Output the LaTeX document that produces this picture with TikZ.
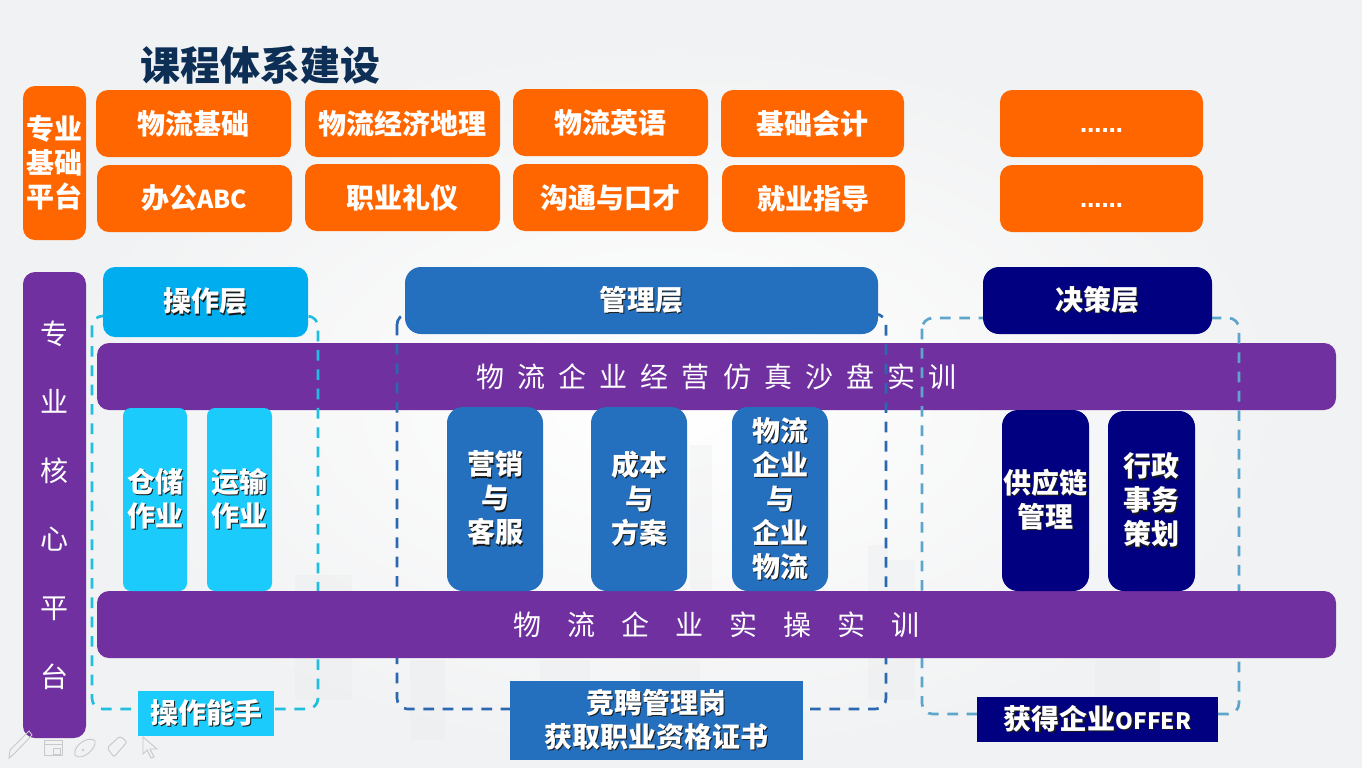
\documentclass[tikz,border=0pt]{standalone}
\usepackage{fontspec}
\setmainfont{Noto Sans CJK SC}
\newfontfamily\plainwide[LetterSpace=47]{Noto Sans CJK SC}
\newfontfamily\plainwider[LetterSpace=93]{Noto Sans CJK SC}
\newfontfamily\dotsfont{DejaVu Sans}
\definecolor{bgbase}{HTML}{F1F2F3}
\definecolor{orangebox}{HTML}{FF6600}
\definecolor{purplebox}{HTML}{7030A0}
\definecolor{skybox}{HTML}{00AEEF}
\definecolor{cyanbox}{HTML}{1ACBFB}
\definecolor{bluebox}{HTML}{2470BE}
\definecolor{navybox}{HTML}{000080}
\definecolor{titleink}{HTML}{0D2E55}
\definecolor{dashcyan}{HTML}{1FBFE0}
\definecolor{dashblue}{HTML}{2B68B0}
\definecolor{dashpale}{HTML}{5DA5CC}
\definecolor{iconline}{HTML}{C9C9C9}
\definecolor{towerfill}{HTML}{E9EAEB}
\definecolor{shadowink}{HTML}{1A1A1A}
% white label with a small hard drop shadow
\newcommand{\shad}[1]{\leavevmode\rlap{\kern1pt\raisebox{-1pt}{\textcolor{shadowink}{#1}}}#1}
% pair of low ellipses sitting under the centre line of a box
\newcommand{\lowdots}{\raisebox{-7.1pt}[0pt][0pt]{\dotsfont\bfseries\fontsize{16}{16}\selectfont ……}}
\tikzset{
  x=0.75pt, y=-0.75pt,
  panel/.style={rounded corners=9pt, inner sep=0pt, text=white, align=center, font=\bfseries\fontsize{21}{25.5}\selectfont},
  orangepanel/.style={panel, fill=orangebox},
  purplepanel/.style={panel, fill=purplebox},
  columnpanel/.style={purplepanel, font=\mdseries\fontsize{21}{51.4}\selectfont},
  barwide/.style={purplepanel, font=\plainwide\mdseries\fontsize{21}{25.5}\selectfont},
  barwider/.style={purplepanel, font=\plainwider\mdseries\fontsize{21}{25.5}\selectfont},
  skypanel/.style={panel, fill=skybox},
  cyanpanel/.style={panel, fill=cyanbox, rounded corners=6pt},
  bluepanel/.style={panel, fill=bluebox, rounded corners=12pt},
  navypanel/.style={panel, fill=navybox, rounded corners=12pt},
  flatlabel/.style={panel, rounded corners=0pt},
  dashframe/.style={line width=2pt, rounded corners=8pt, dash pattern=on 8pt off 6.5pt},
  icon/.style={draw=iconline, line width=0.7pt},
  tower/.style={fill=towerfill, opacity=.3},
}
% box from its corner coordinates: name, style, x1, y1, x2, y2, text
\newcommand{\pbox}[7]{%
  \pgfmathsetmacro{\cxx}{(#3+#5)/2}\pgfmathsetmacro{\cyy}{(#4+#6)/2}%
  \pgfmathsetmacro{\ww}{(#5-#3)*0.75}\pgfmathsetmacro{\hh}{(#6-#4)*0.75}%
  \node[#2, minimum width=\ww pt, minimum height=\hh pt] (#1) at (\cxx,\cyy) {#7};}
\begin{document}
\begin{tikzpicture}
\useasboundingbox (0,0) rectangle (1366,768);
% slide background
\fill[white] (0,0) rectangle (1366,768);
\begin{scope}
  \clip (0,0) rectangle (1362,768);
  \fill[bgbase] (0,0) rectangle (1362,768);
  \shade[inner color=white, outer color=bgbase] (670,400) ellipse (620 and 360);
  % faint skyline
  \fill[tower] (295,575) rectangle (352,700);
  \fill[tower] (690,445) rectangle (712,590);
  \fill[tower] (868,545) rectangle (888,700);
  \fill[tower] (888,560) rectangle (915,700);
  \fill[tower] (410,660) rectangle (445,740);
  \fill[tower] (540,660) rectangle (590,680);
  \fill[tower] (640,660) rectangle (700,680);
  \fill[tower] (1095,660) rectangle (1160,700);
\end{scope}

\node[font=\bfseries\fontsize{30}{30}\selectfont, text=titleink, inner sep=0pt] (title) at (260,65) {课程体系建设};

% foundation platform
\pbox{basehead}{orangepanel}{23}{86}{86}{240}{专业\\基础\\平台}
\pbox{b1}{orangepanel}{96}{90}{291}{157}{物流基础}
\pbox{b2}{orangepanel}{305}{90}{500}{157}{物流经济地理}
\pbox{b3}{orangepanel}{513}{89}{708}{156}{物流英语}
\pbox{b4}{orangepanel}{721}{90}{904}{157}{基础会计}
\pbox{b5}{orangepanel}{1000}{90}{1203}{157}{\lowdots}
\pbox{c1}{orangepanel}{97}{165}{292}{232}{办公{\fontsize{18.5}{25.5}\selectfont ABC}}
\pbox{c2}{orangepanel}{305}{164}{500}{231}{职业礼仪}
\pbox{c3}{orangepanel}{513}{164}{708}{231}{沟通与口才}
\pbox{c4}{orangepanel}{722}{165}{905}{232}{就业指导}
\pbox{c5}{orangepanel}{1000}{165}{1203}{232}{\lowdots}

% core platform
\pbox{corehead}{columnpanel}{23}{272}{86}{738}{专\\业\\核\\心\\平\\台}

% training bars and the dashed group frames between them
\pbox{bartop}{barwide}{97}{343}{1336}{410}{物流企业经营仿真沙盘实训}
\draw[dashframe, dashcyan] (92,316) rectangle (318,709);
\draw[dashframe, dashblue] (397,314) rectangle (886,709);
\draw[dashframe, dashpale] (922,318) rectangle (1239,714);
\pbox{barlow}{barwider}{97}{591}{1336}{658}{物流企业实操实训}

% level headers
\pbox{lvl1}{skypanel}{103}{267}{308}{337}{\shad{操作层}}
\pbox{lvl2}{bluepanel}{405}{267}{878}{334}{\shad{管理层}}
\pbox{lvl3}{navypanel}{983}{267}{1212}{334}{\shad{决策层}}

% courses per level
\pbox{m1}{cyanpanel}{123}{408}{187}{591}{\shad{仓储}\\\shad{作业}}
\pbox{m2}{cyanpanel}{207}{408}{272}{591}{\shad{运输}\\\shad{作业}}
\pbox{m3}{bluepanel}{447}{407}{543}{591}{\shad{营销}\\\shad{与}\\\shad{客服}}
\pbox{m4}{bluepanel}{591}{407}{687}{591}{\shad{成本}\\\shad{与}\\\shad{方案}}
\pbox{m5}{bluepanel}{732}{407}{828}{591}{\shad{物流}\\\shad{企业}\\\shad{与}\\\shad{企业}\\\shad{物流}}
\pbox{m6}{navypanel}{1002}{410}{1089}{591}{\shad{供应链}\\\shad{管理}}
\pbox{m7}{navypanel}{1108}{411}{1195}{591}{\shad{行政}\\\shad{事务}\\\shad{策划}}

% outcomes
\pbox{o1}{flatlabel, fill=cyanbox}{138}{691}{274}{736}{\shad{操作能手}}
\pbox{o2}{flatlabel, fill=bluebox}{510}{681}{803}{760}{\shad{竞聘管理岗}\\\shad{获取职业资格证书}}
\pbox{o3}{flatlabel, fill=navybox}{977}{697}{1218}{742}{\shad{获得企业{\fontsize{17}{25.5}\selectfont OFFER}}}

% presenter toolbar
\draw[icon] (10,750) -- (29,731) -- (32,735) -- (14,754) -- (9,758) -- cycle;
\draw[icon] (44,740) rectangle (62,755) (44,744.5) -- (62,744.5) (53,748) rectangle (60,754);
\draw[icon] (75,755) .. controls (72,745) and (90,735) .. (95,741) .. controls (97,748) and (82,762) .. (75,755) -- cycle;
\fill[iconline] (83,750) circle (1.4);
\draw[icon, rounded corners=1.5pt] (107,748) -- (120,736) -- (127,742) -- (114,757) -- cycle;
\draw[icon] (143,737) -- (143,754) -- (147,750) -- (151,758) -- (154,757) -- (150,749) -- (157,749) -- cycle;
\end{tikzpicture}
\end{document}
